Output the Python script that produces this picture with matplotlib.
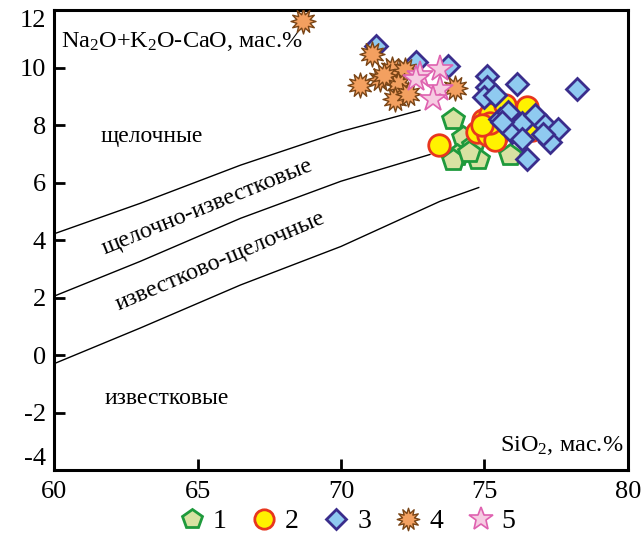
import numpy as np
import matplotlib
matplotlib.use("Agg")
import matplotlib.pyplot as plt
from matplotlib.path import Path

plt.rcParams['font.family'] = ['Liberation Serif', 'DejaVu Serif']
plt.rcParams['mathtext.fontset'] = 'custom'
plt.rcParams['mathtext.rm'] = 'Liberation Serif'
plt.rcParams['mathtext.it'] = 'Liberation Serif:italic'
plt.rcParams['axes.unicode_minus'] = False

# boundary curves (SiO2, Na2O+K2O-CaO)
b1_x = [60.0, 63.0, 66.5, 70.0, 72.75]
b1_y = [4.22, 5.28, 6.61, 7.78, 8.52]
b2_x = [60.0, 63.0, 66.5, 70.0, 73.1]
b2_y = [2.05, 3.26, 4.76, 6.05, 6.98]
b3_x = [60.0, 63.0, 66.5, 70.0, 73.45, 74.8]
b3_y = [-0.3, 0.94, 2.44, 3.78, 5.35, 5.83]

# group 1 - pentagons
g1_x = [73.9, 74.25, 74.6, 74.03, 73.9, 74.77, 75.89, 74.45]
g1_y = [8.23, 7.6, 7.3, 6.96, 6.78, 6.84, 6.96, 7.05]
# group 2 - circles
g2_x = [73.41, 74.73, 74.95, 75.19, 75.12, 75.42, 75.37, 75.71, 76.47, 76.64, 75.19, 74.9]
g2_y = [7.30, 7.78, 8.17, 8.40, 7.65, 7.60, 7.48, 8.69, 8.64, 7.82, 8.06, 8.0]
# group 3 - diamonds
g3_x = [71.22, 72.61, 73.73, 75.08, 75.08, 74.98, 75.37, 76.13, 78.22, 75.54, 75.82,
        75.95, 76.3, 76.76, 77.11, 77.56, 77.28, 76.3, 76.47, 77.04, 75.6]
g3_y = [10.77, 10.19, 10.07, 9.72, 9.33, 8.99, 9.04, 9.44, 9.27, 8.23, 8.47,
        7.78, 8.06, 8.34, 8.0, 7.88, 7.43, 7.53, 6.84, 7.7, 8.1]
# group 4 - orange stars
g4_x = [68.68, 71.07, 70.66, 71.36, 71.77, 72.23, 72.0, 71.88, 72.33, 73.97, 71.5]
g4_y = [11.64, 10.49, 9.41, 9.62, 9.97, 9.91, 9.44, 8.92, 9.10, 9.30, 9.75]
# group 5 - pink stars
g5_x = [72.75, 73.45, 73.45, 73.2, 72.6]
g5_y = [9.73, 9.97, 9.27, 8.92, 9.6]

labels = ['1', '2', '3', '4', '5']

star12 = Path.unit_regular_star(12, 0.55)

fig = plt.figure(figsize=(6.44, 5.39), dpi=100)
ax = fig.add_axes([0.084, 0.128, 0.891, 0.853])

for bx, by in [(b1_x, b1_y), (b2_x, b2_y), (b3_x, b3_y)]:
    ax.plot(bx, by, color='black', lw=1.0, zorder=1)

ax.plot(g1_x, g1_y, ls='none', marker='p', ms=16, mfc='#d8e2a2', mec='#1f9a3c', mew=2, label=labels[0], zorder=2)
ax.plot(g2_x, g2_y, ls='none', marker='o', ms=15.5, mfc='#fff200', mec='#e8361e', mew=2, label=labels[1], zorder=3)
ax.plot(g3_x, g3_y, ls='none', marker='D', ms=11, mfc='#8fcaf0', mec='#3a2d8c', mew=2, label=labels[2], zorder=4)
ax.plot(g4_x, g4_y, ls='none', marker=star12, ms=18, mfc='#f3a060', mec='#7a4516', mew=1, label=labels[3], zorder=5)
ax.plot(g5_x, g5_y, ls='none', marker='*', ms=20, mfc='#f6cce2', mec='#df62b0', mew=1.2, label=labels[4], zorder=6)

ax.set_xlim(60, 80)
ax.set_ylim(-4, 12)
ax.set_xticks([60, 65, 70, 75, 80])
ax.set_yticks([-4, -2, 0, 2, 4, 6, 8, 10, 12])
ax.tick_params(direction='in', length=8, width=2, labelsize=19, top=False, right=False)
ax.tick_params(axis='x', pad=8)
ax.tick_params(axis='y', pad=6)
for s in ax.spines.values():
    s.set_linewidth(2.2)

fig.canvas.draw()
ylabs = ax.get_yticklabels()
ylabs[-1].set_va('top')
ylabs[0].set_va('bottom')

ax.text(60.25, 10.9, 'Na$_2$O+K$_2$O-CaO, мас.%', fontsize=17.5, va='center', ha='left')
ax.text(79.85, -3.15, 'SiO$_2$, мас.%', fontsize=17.5, va='center', ha='right')
ax.text(63.4, 7.6, 'щелочные', fontsize=17, ha='center', va='center')
ax.text(65.33, 5.17, 'щелочно-известковые', fontsize=17.5, ha='center', va='center', rotation=22)
ax.text(65.78, 3.26, 'известково-щелочные', fontsize=17.5, ha='center', va='center', rotation=23)
ax.text(63.94, -1.5, 'известковые', fontsize=17, ha='center', va='center')

fig.legend(loc='center', bbox_to_anchor=(0.535, 0.032), ncol=5, frameon=False,
           fontsize=20, handletextpad=0.1, columnspacing=0.7, handlelength=1.3,
           markerscale=0.9, borderpad=0.1)

fig.savefig('out.png', dpi=100)
